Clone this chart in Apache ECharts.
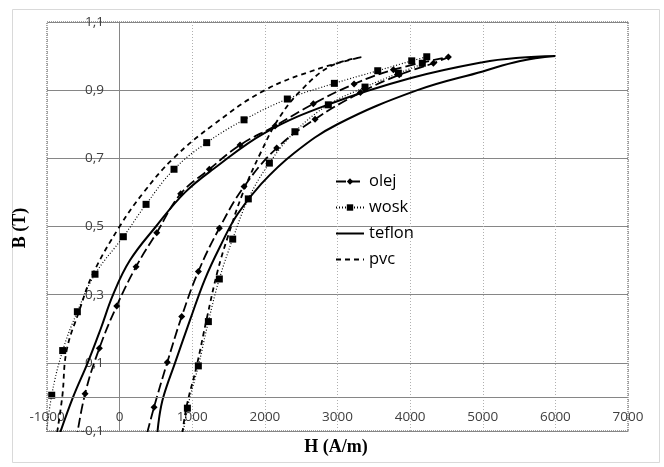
<!DOCTYPE html>
<html><head><meta charset="utf-8">
<script src="https://cdn.jsdelivr.net/npm/echarts/dist/echarts.min.js"></script>
<style>html,body{margin:0;padding:0;background:#fff}#c{width:664px;height:467px}</style>
</head><body><div id="c"></div>
<script>
// olej (diamonds)
const olejH = [-600, -476, -279, -40, 226, 511, 841, 1235, 1658, 2140, 2667, 3228, 3769, 4527, 4320, 3850, 3315, 2691, 2163, 1713, 1373, 1084, 855, 657, 474, 350];
const olejB = [-0.13, 0.009, 0.143, 0.267, 0.382, 0.482, 0.596, 0.668, 0.739, 0.795, 0.86, 0.918, 0.96, 0.997, 0.979, 0.945, 0.893, 0.815, 0.73, 0.617, 0.495, 0.368, 0.236, 0.102, -0.03, -0.13];
// wosk (squares)
const woskH = [-1020, -935, -784, -582, -339, 51, 364, 749, 1199, 1713, 2309, 2957, 3554, 4022, 4229, 4168, 3838, 3379, 2874, 2414, 2062, 1772, 1557, 1373, 1222, 1084, 933, 860];
const woskB = [-0.13, 0.005, 0.136, 0.25, 0.36, 0.47, 0.565, 0.668, 0.746, 0.813, 0.874, 0.92, 0.957, 0.986, 0.998, 0.979, 0.95, 0.909, 0.857, 0.778, 0.686, 0.581, 0.463, 0.346, 0.221, 0.091, -0.033, -0.13];
// teflon (solid)
const teflonH = [-860, -640, -440, -260, -90, 140, 500, 900, 1300, 2000, 2900, 4000, 5000, 5500, 6000, 5500, 5000, 4100, 3000, 2400, 1950, 1620, 1380, 1170, 970, 763, 602, 545, 510];
const teflonB = [-0.13, 0.0, 0.1, 0.2, 0.3, 0.4, 0.5, 0.6, 0.67, 0.775, 0.86, 0.935, 0.982, 0.995, 1.0, 0.985, 0.955, 0.9, 0.80, 0.715, 0.625, 0.535, 0.44, 0.343, 0.226, 0.1, 0.0, -0.06, -0.13];
// pvc (dashed)
const pvcH = [-880, -790, -730, -560, -370, 0, 330, 740, 1300, 2000, 2700, 3330, 2900, 2500, 2200, 1950, 1700, 1490, 1350, 1200, 1060, 920, 850];
const pvcB = [-0.13, 0.0, 0.136, 0.25, 0.36, 0.5, 0.6, 0.7, 0.8, 0.9, 0.96, 0.997, 0.97, 0.9, 0.82, 0.72, 0.6, 0.47, 0.37, 0.23, 0.09, -0.03, -0.13];

const seriesNames = ['olej', 'wosk', 'teflon', 'pvc'];
const xMin = -1000, xMax = 7000, xStep = 1000;
const yMin = -0.1, yMax = 1.1, yStep = 0.2;
const xTitle = 'H (A/m)', yTitle = 'B (T)';

function pairs(h, b) { return h.map((v, i) => [v, b[i]]); }

const chart = echarts.init(document.getElementById('c'), null, {renderer: 'canvas'});
const labelFont = 'Open Sans';
const gridLeft = 47, gridTop = 22, gridRight = 36, gridBottom = 36;
chart.setOption({
  backgroundColor: '#ffffff',
  animation: false,
  graphic: [
    {type: 'rect', left: 10, top: 7, shape: {width: 647, height: 453},
      style: {fill: 'none', stroke: '#d9d9d9', lineWidth: 1}, silent: true, z: -1},
    {type: 'text', x: 20, y: 228, rotation: Math.PI / 2, silent: true,
      style: {text: yTitle, align: 'center', verticalAlign: 'middle', fill: '#000',
        fontFamily: 'Liberation Serif', fontWeight: 'bold', fontSize: 18}},
    {type: 'text', x: 336, y: 447, silent: true,
      style: {text: xTitle, align: 'center', verticalAlign: 'middle', fill: '#000',
        fontFamily: 'Liberation Serif', fontWeight: 'bold', fontSize: 18}}
  ],
  grid: {left: gridLeft, right: gridRight, top: gridTop, bottom: gridBottom, show: true, containLabel: false, outerBoundsMode: 'none',
    borderColor: '#404040', borderWidth: 1, borderType: [1, 1], backgroundColor: 'transparent'},
  legend: {
    data: [seriesNames[0], seriesNames[1],
      {name: seriesNames[2], itemStyle: {opacity: 0}},
      {name: seriesNames[3], itemStyle: {opacity: 0}}],
    orient: 'vertical', left: 330, top: 168,
    itemWidth: 28, itemHeight: 8, itemGap: 9,
    textStyle: {fontFamily: labelFont, fontSize: 16.5, color: '#000'}
  },
  xAxis: {
    type: 'value', min: xMin, max: xMax, interval: xStep,
    axisLine: {onZero: false, lineStyle: {color: '#868686', width: 1}},
    axisTick: {show: false},
    axisLabel: {inside: true, margin: 14, verticalAlign: 'middle', fontFamily: labelFont, fontSize: 13.5, color: '#404040',
      formatter: v => String(v)},
    splitLine: {show: true, lineStyle: {color: '#b0b0b0', type: [1, 2], width: 1}}
  },
  yAxis: {
    type: 'value', min: yMin, max: yMax, interval: yStep,
    axisLine: {onZero: true, onZeroAxisIndex: 0, lineStyle: {color: '#868686', width: 1}},
    axisTick: {show: false},
    axisLabel: {inside: true, align: 'right', margin: 57, fontFamily: labelFont, fontSize: 13.5, color: '#404040',
      formatter: v => v.toFixed(1).replace('.', ',')},
    splitLine: {show: true, lineStyle: {color: '#868686', width: 1}}
  },
  series: [
    {name: 'olej', type: 'line', data: pairs(olejH, olejB), smooth: 0.4,
      symbol: 'diamond', symbolSize: 7, itemStyle: {color: '#000'},
      lineStyle: {color: '#000', width: 1.8, type: [10, 4]},
      markLine: {silent: true, symbol: 'none', label: {show: false},
        lineStyle: {color: '#868686', width: 1, type: 'solid'}, data: [{yAxis: 0}]}},
    {name: 'wosk', type: 'line', data: pairs(woskH, woskB), smooth: 0.4,
      symbol: 'rect', symbolSize: 7, itemStyle: {color: '#000'},
      lineStyle: {color: '#000', width: 1.2, type: [1, 2]}},
    {name: 'teflon', type: 'line', data: pairs(teflonH, teflonB), smooth: 0.4,
      symbol: 'none', itemStyle: {color: '#000'},
      lineStyle: {color: '#000', width: 2}},
    {name: 'pvc', type: 'line', data: pairs(pvcH, pvcB), smooth: 0.4,
      symbol: 'none', itemStyle: {color: '#000'},
      lineStyle: {color: '#000', width: 1.8, type: [5, 4]}}
  ]
});
</script>
</body></html>
